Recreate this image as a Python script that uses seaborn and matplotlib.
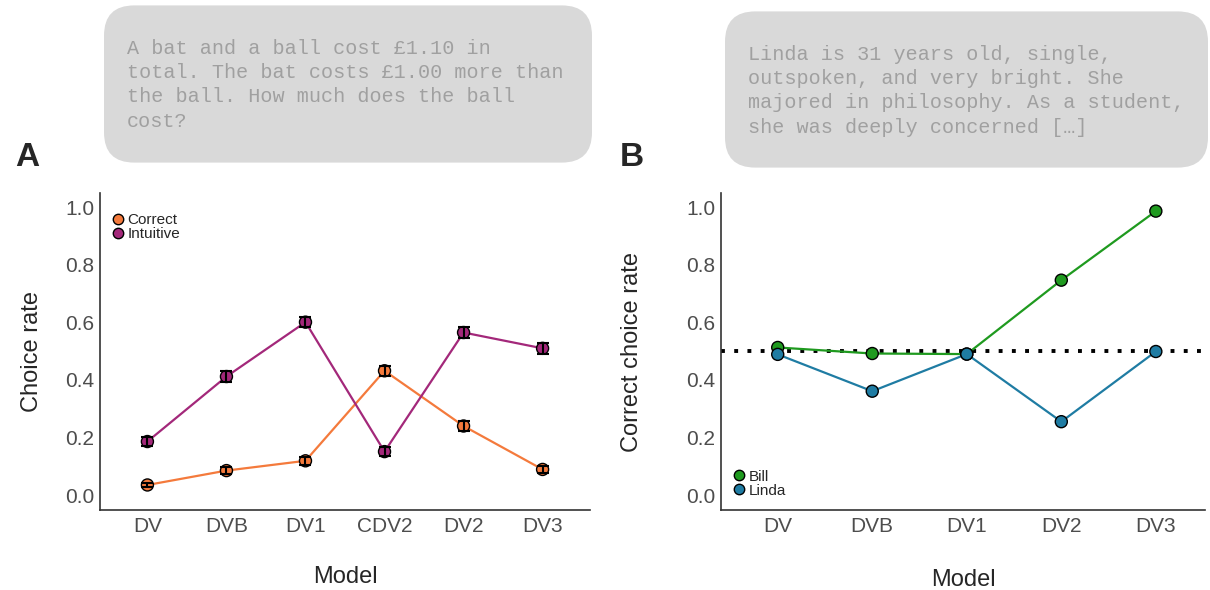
import matplotlib.pyplot as plt
import seaborn as sns
import pandas as pd
from matplotlib.lines import Line2D
from matplotlib.patches import FancyBboxPatch

# data
models_a = ["DV", "DVB", "DV1", "CDV2", "DV2", "DV3"]
correct = [0.035, 0.085, 0.119, 0.432, 0.240, 0.089]
correct_err = [0.008, 0.012, 0.013, 0.018, 0.017, 0.012]
intuitive = [0.186, 0.412, 0.601, 0.151, 0.565, 0.510]
intuitive_err = [0.016, 0.018, 0.018, 0.015, 0.018, 0.018]

models_b = ["DV", "DVB", "DV1", "DV2", "DV3"]
bill = [0.513, 0.492, 0.490, 0.747, 0.987]
linda = [0.489, 0.361, 0.490, 0.255, 0.499]
chance = 0.5

box_a = ("A bat and a ball cost \u00a31.10 in\ntotal. The bat costs \u00a31.00 more than\n"
         "the ball. How much does the ball\ncost?")
box_b = ("Linda is 31 years old, single,\noutspoken, and very bright. She\n"
         "majored in philosophy. As a student,\nshe was deeply concerned [\u2026]")

c_correct, c_intuitive = "#F47A3C", "#A3287A"
c_bill, c_linda = "#1F9A1F", "#1F7CA3"

sns.set_style("white")
plt.rcParams["font.family"] = ["Liberation Sans", "DejaVu Sans"]

fig = plt.figure(figsize=(12.1, 5.9), dpi=100)
W, H = 1210, 590
ax1 = fig.add_axes([100 / W, 1 - 510 / H, 490 / W, 317 / H])
ax2 = fig.add_axes([721 / W, 1 - 510 / H, 484 / W, 317 / H])

# panel A
df_a = pd.DataFrame({
    "model": models_a * 2,
    "pos": list(range(len(models_a))) * 2,
    "rate": correct + intuitive,
    "err": correct_err + intuitive_err,
    "type": ["Correct"] * len(models_a) + ["Intuitive"] * len(models_a),
})
pal_a = {"Correct": c_correct, "Intuitive": c_intuitive}
sns.lineplot(data=df_a, x="pos", y="rate", hue="type", palette=pal_a,
             linewidth=1.6, legend=False, ax=ax1, zorder=2)
sns.scatterplot(data=df_a, x="pos", y="rate", hue="type", palette=pal_a, s=75,
                edgecolor="black", linewidth=1, legend=False, ax=ax1, zorder=3)
ax1.errorbar(df_a["pos"], df_a["rate"], yerr=df_a["err"], fmt="none",
             ecolor="black", elinewidth=1.5, capsize=4, capthick=1.5, zorder=4)

# panel B
df_b = pd.DataFrame({
    "pos": list(range(len(models_b))) * 2,
    "rate": bill + linda,
    "who": ["Bill"] * len(models_b) + ["Linda"] * len(models_b),
})
pal_b = {"Bill": c_bill, "Linda": c_linda}
ax2.axhline(chance, color="black", linestyle=(0, (1, 2.4)), linewidth=2.8, zorder=1)
sns.lineplot(data=df_b, x="pos", y="rate", hue="who", palette=pal_b,
             linewidth=1.6, legend=False, ax=ax2, zorder=2)
sns.scatterplot(data=df_b, x="pos", y="rate", hue="who", palette=pal_b, s=75,
                edgecolor="black", linewidth=1, legend=False, ax=ax2, zorder=4)

for ax, models, ylabel, xmax in [(ax1, models_a, "Choice rate", 5.6),
                                 (ax2, models_b, "Correct choice rate", 4.52)]:
    ax.set_xlim(-0.6, xmax)
    ax.set_ylim(-0.052, 1.05)
    ax.set_xticks(range(len(models)))
    ax.set_xticklabels(models)
    ax.set_yticks([0, 0.2, 0.4, 0.6, 0.8, 1.0])
    ax.set_yticklabels(["0.0", "0.2", "0.4", "0.6", "0.8", "1.0"])
    ax.tick_params(axis="both", labelsize=15, labelcolor="#4D4D4D", length=3,
                   color="#333333", width=0.8, pad=2)
    ax.tick_params(axis="y", length=0, pad=4)
    ax.set_xlabel("Model", fontsize=17)
    ax.set_ylabel(ylabel, fontsize=17)
    sns.despine(ax=ax)
    for s in ["left", "bottom"]:
        ax.spines[s].set_color("#333333")
        ax.spines[s].set_linewidth(1.2)

ax1.xaxis.set_label_coords(0.5, -0.178)
ax2.xaxis.set_label_coords(0.5, -0.187)
ax1.yaxis.set_label_coords(-0.116, 0.5)
ax2.yaxis.set_label_coords(-0.161, 0.5)

# legends with marker-only handles
h_a = [Line2D([], [], marker="o", ls="none", markerfacecolor=c, markeredgecolor="black",
              markersize=7.5, label=l) for l, c in pal_a.items()]
ax1.legend(handles=h_a, loc="upper left", bbox_to_anchor=(0.0, 0.965), frameon=False,
           fontsize=11, handletextpad=0.0, labelspacing=0.0, borderaxespad=0.2,
           handlelength=1.2)
h_b = [Line2D([], [], marker="o", ls="none", markerfacecolor=c, markeredgecolor="black",
              markersize=7.5, label=l) for l, c in pal_b.items()]
ax2.legend(handles=h_b, loc="lower left", bbox_to_anchor=(0.0, 0.01), frameon=False,
           fontsize=11, handletextpad=0.0, labelspacing=0.0, borderaxespad=0.2,
           handlelength=1.2)

# panel letters
fig.text(15 / W, 1 - 157 / H, "A", fontsize=24, fontweight="bold", va="center")
fig.text(620 / W, 1 - 157 / H, "B", fontsize=24, fontweight="bold", va="center")

# prompt boxes
for (x0, y0, x1, y1), txt in [((104, 6, 592, 162), box_a), ((725, 12, 1208, 167), box_b)]:
    patch = FancyBboxPatch((x0 / W + 0.02, 1 - y1 / H + 0.04),
                           (x1 - x0) / W - 0.04, (y1 - y0) / H - 0.08,
                           boxstyle="round,pad=0.02,rounding_size=0.025",
                           transform=fig.transFigure, facecolor="#D9D9D9",
                           edgecolor="none", mutation_aspect=W / H)
    fig.add_artist(patch)
    fig.text((x0 + 23) / W, 1 - (y0 + 33) / H, txt, fontsize=14.5,
             family=["Liberation Mono", "DejaVu Sans Mono"], color="#A0A0A0",
             va="top", linespacing=1.35)

fig.savefig("out.png", dpi=100)
